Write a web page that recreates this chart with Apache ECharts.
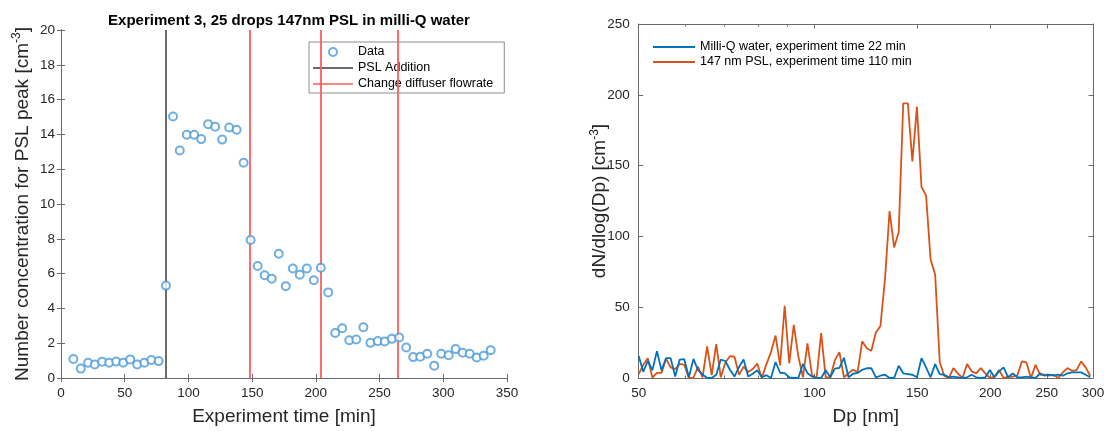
<!DOCTYPE html>
<html>
<head>
<meta charset="utf-8">
<script src="https://cdn.jsdelivr.net/npm/echarts@6/dist/echarts.min.js"></script>
<style>
html,body{margin:0;padding:0;background:#fff;}
#chart{width:1108px;height:431px;}
</style>
</head>
<body>
<div id="chart"></div>
<script>
// ---- Left panel data ----
const times = [9.7, 15.5, 21.3, 26.5, 32.3, 37.8, 43.3, 48.8, 54.3, 59.8, 65.4, 70.9, 76.6, 82.4, 87.9, 93.2, 98.7, 104.5, 110, 115.5, 121, 126.5, 132, 137.8, 143.3, 148.8, 154.3, 159.8, 165.4, 170.9, 176.4, 181.9, 187.4, 192.9, 198.4, 203.9, 209.7, 215.2, 220.7, 226.2, 231.7, 237.3, 242.8, 248.6, 254.1, 259.6, 265.4, 270.9, 276.4, 281.9, 287.4, 292.9, 298.4, 304.2, 309.7, 315.2, 320.7, 326.2, 331.7, 337.2];
const concentration = [1.09, 0.54, 0.88, 0.78, 0.94, 0.88, 0.95, 0.88, 1.07, 0.78, 0.88, 1.03, 0.97, 5.31, 15.03, 13.07, 13.98, 13.98, 13.73, 14.59, 14.44, 13.70, 14.40, 14.27, 12.37, 7.93, 6.44, 5.91, 5.71, 7.14, 5.28, 6.29, 5.93, 6.29, 5.62, 6.34, 4.92, 2.59, 2.86, 2.17, 2.21, 2.92, 2.02, 2.12, 2.10, 2.25, 2.33, 1.75, 1.20, 1.22, 1.39, 0.71, 1.39, 1.31, 1.66, 1.45, 1.39, 1.18, 1.28, 1.60];
const pslAddition = [82];
const flowChanges = [148.5, 203.5, 264.5];

// ---- Right panel data ----
const dp = [50.00, 50.91, 51.83, 52.77, 53.73, 54.70, 55.70, 56.71, 57.74, 58.78,
  59.85, 60.94, 62.05, 63.17, 64.32, 65.49, 66.68, 67.89, 69.12, 70.37,
  71.65, 72.95, 74.28, 75.62, 77.00, 78.40, 79.82, 81.27, 82.75, 84.25,
  85.78, 87.33, 88.92, 90.53, 92.17, 93.85, 95.55, 97.28, 99.05, 100.85,
  102.68, 104.54, 106.44, 108.37, 110.34, 112.34, 114.38, 116.46, 118.57, 120.72,
  122.92, 125.15, 127.42, 129.73, 132.09, 134.48, 136.92, 139.41, 141.94, 144.52,
  147.14, 149.81, 152.53, 155.30, 158.11, 160.98, 163.91, 166.88, 169.91, 172.99,
  176.13, 179.33, 182.58, 185.90, 189.28, 192.71, 196.21, 199.77, 203.40, 207.09,
  210.85, 214.68, 218.58, 222.54, 226.58, 230.70, 234.88, 239.15, 243.49, 247.91,
  252.41, 256.99, 261.65, 266.40, 271.24, 276.16, 281.17, 286.28, 291.47, 296.76];
const milliQ = [15.6, 4.5, 12, 5.5, 19, 5.5, 14, 14, 1, 13,
  13.3, 0.5, 13.5, 5.5, 2.5, 0, 0, 2.3, 13, 12,
  5.8, 1, 7.8, 13, 1, 3, 5.5, 0.5, 2, 0,
  11.3, 3.7, 3.4, 0.5, 0, 0, 10, 3.4, 1, 0,
  0, 5.5, 0.5, 6.6, 7.2, 14.3, 0.5, 3, 3.6, 5.8,
  6.9, 7, 0.5, 1.6, 2.3, 0, 0, 8.6, 3.3, 2.8,
  2.3, 0.5, 14, 7.5, 0.5, 9.8, 2.8, 2.3, 0.5, 0.9,
  0.5, 0, 0.5, 2.3, 0.5, 0, 0.5, 5.6, 0.5, 4.7,
  7.5, 0.5, 3.3, 0.5, 0.5, 0.9, 0.5, 0, 3.3, 1.6,
  2.3, 1.6, 2.3, 1.6, 3.3, 4, 4, 4, 2.3, 0.5];
const psl = [2.8, 9.3, 14, 0.3, 3.6, 3.6, 13.6, 7.5, 6.3, 9.9,
  9.2, 0, 0, 8, 0.5, 22.4, 2, 24, 0.5, 11,
  15.4, 15, 2.2, 8, 4.3, 6.3, 10.1, 0, 9.8, 18.3,
  30, 8.9, 51, 10.4, 37.6, 15.3, 0.5, 24.4, 2, 0,
  31.8, 0.5, 0.5, 12.4, 18.3, 0.5, 3.3, 5.8, 4.2, 25.9,
  21, 19.2, 32.1, 36.8, 70, 117.9, 92.2, 102.9, 194, 194,
  152.9, 191.6, 134.9, 129, 83.6, 73.1, 11.1, 1.4, 0, 7,
  3.1, 0, 9.9, 4.7, 3.3, 7, 3.3, 0, 0.9, 5.6,
  0, 0.9, 0.9, 1.6, 11.7, 11, 0, 9.3, 2.3, 2.3,
  1.6, 2.3, 0, 4, 7, 5.1, 5.6, 11.7, 7.5, 1.6];
const dpTickLabels = [50, 100, 150, 200, 250, 300];
const dpMinorTicks = [60, 70, 80, 90];

const FONT = '"Liberation Sans", Arial, Helvetica, sans-serif';
const TXT = '#262626';
const BOX = '#6a6a6a';
const BLUE = '#0072BD';
const ORANGE = '#D95319';
const DOT = '#4a9ad8';
const RED = '#ff5c5c';
const BLACK = '#3a3a3a';

const axisLineS = {show: true, lineStyle: {color: BOX, width: 1}};
const tickIn = (len, custom) => {
  const t = {show: true, inside: true, length: len, lineStyle: {color: BOX, width: 1}};
  if (custom) t.customValues = custom;
  return t;
};
const lbl = (m) => ({show: true, fontSize: 13.5, color: TXT, fontFamily: FONT, margin: m});
const nameStyle = {fontSize: 19, color: TXT, fontFamily: FONT};
const richName = {
  t: {fontSize: 19, color: TXT, fontFamily: FONT},
  s: {fontSize: 12, color: TXT, fontFamily: FONT, padding: [0, 0, 11, 0]}
};

const logTicks = dpTickLabels.map(v => Math.log10(v));
const logMinor = dpMinorTicks.map(v => Math.log10(v));
const logMin = Math.log10(dpTickLabels[0]);
const logMax = Math.log10(dpTickLabels[dpTickLabels.length - 1]);

const leftX = {type: 'value', min: 0, max: 350, interval: 50};
const leftY = {type: 'value', min: 0, max: 20, interval: 2};
const rightXv = {type: 'value', min: logMin, max: logMax};
const rightY = {type: 'value', min: 0, max: 250, interval: 50};
const off = {axisLabel: {show: false}, splitLine: {show: false}};

const LINE_ICON = 'path://M0,0H40V1.6H0Z';
const LINE_ICON2 = 'path://M0,0H42V1.9H0Z';

const chart = echarts.init(document.getElementById('chart'), null, {renderer: 'canvas'});
const option = {
  animation: false,
  backgroundColor: '#fff',
  textStyle: {fontFamily: FONT},
  title: {
    text: 'Experiment 3, 25 drops 147nm PSL in milli-Q water',
    left: 284, top: 8, textAlign: 'center',
    textStyle: {fontSize: 15, fontWeight: 'bold', color: '#000', fontFamily: FONT}
  },
  grid: [
    {left: 61, top: 30, width: 446, height: 351, containLabel: false},
    {left: 638.7, top: 24, width: 454.3, height: 357, containLabel: false}
  ],
  legend: [
    {
      orient: 'vertical', left: 309, top: 42,
      padding: [3, 11, 2, 4], itemGap: 2,
      itemWidth: 40, itemHeight: 8,
      borderColor: '#8c8c8c', borderWidth: 1, backgroundColor: '#fff',
      textStyle: {fontSize: 12.5, color: '#000', fontFamily: FONT, lineHeight: 14},
      data: [
        {name: 'Data', icon: 'emptyCircle'},
        {name: 'PSL Addition', icon: LINE_ICON},
        {name: 'Change diffuser flowrate', icon: LINE_ICON}
      ],
      selectedMode: false
    },
    {
      orient: 'vertical', left: 653, top: 40,
      padding: 0, itemGap: 1,
      itemWidth: 42, itemHeight: 8,
      textStyle: {fontSize: 12.5, color: '#000', fontFamily: FONT, lineHeight: 14},
      data: [
        {name: 'Milli-Q water, experiment time 22 min', icon: LINE_ICON2},
        {name: '147 nm PSL, experiment time 110 min', icon: LINE_ICON2}
      ],
      selectedMode: false
    }
  ],
  xAxis: [
    Object.assign({ // 0 left bottom
      gridIndex: 0, position: 'bottom',
      axisLine: axisLineS, axisTick: tickIn(4), axisLabel: lbl(8), splitLine: {show: false},
      name: 'Experiment time [min]', nameLocation: 'middle', nameGap: 29, nameTextStyle: nameStyle,
      nameMoveOverlap: false
    }, leftX),
    Object.assign({ // 1 left top
      gridIndex: 0, position: 'top', axisLine: axisLineS, axisTick: tickIn(4)
    }, off, leftX),
    { // 2 right data log axis
      gridIndex: 1, type: 'log', logBase: 10, min: dpTickLabels[0], max: dpTickLabels[dpTickLabels.length - 1],
      position: 'bottom', axisLine: {show: false}, axisTick: {show: false}, axisLabel: {show: false},
      splitLine: {show: false}, minorTick: {show: false}, minorSplitLine: {show: false}
    },
    Object.assign({ // 3 right bottom labels (log10 space)
      gridIndex: 1, position: 'bottom',
      axisLine: axisLineS, axisTick: tickIn(4.5, logTicks),
      axisLabel: Object.assign(lbl(8), {customValues: logTicks, formatter: v => String(Math.round(Math.pow(10, v)))}),
      splitLine: {show: false},
      name: 'Dp [nm]', nameLocation: 'middle', nameGap: 29, nameTextStyle: nameStyle,
      nameMoveOverlap: false
    }, rightXv),
    Object.assign({ // 4 right bottom minor ticks
      gridIndex: 1, position: 'bottom', axisLine: {show: false}, axisTick: tickIn(2.5, logMinor)
    }, off, rightXv),
    Object.assign({ // 5 right top
      gridIndex: 1, position: 'top', axisLine: axisLineS, axisTick: tickIn(4.5, logTicks)
    }, off, rightXv),
    Object.assign({ // 6 right top minor ticks
      gridIndex: 1, position: 'top', axisLine: {show: false}, axisTick: tickIn(2.5, logMinor)
    }, off, rightXv)
  ],
  yAxis: [
    Object.assign({ // 0 left
      gridIndex: 0, position: 'left',
      axisLine: axisLineS, axisTick: tickIn(4), axisLabel: lbl(6), splitLine: {show: false},
      name: '{t|Number concentration for PSL peak [cm}{s|-3}{t|]}', nameLocation: 'middle', nameGap: 27,
      nameTextStyle: {rich: richName}, nameMoveOverlap: false
    }, leftY),
    Object.assign({ // 1 left panel right side
      gridIndex: 0, position: 'right', axisLine: axisLineS, axisTick: tickIn(4)
    }, off, leftY),
    Object.assign({ // 2 right panel left
      gridIndex: 1, position: 'left',
      axisLine: axisLineS, axisTick: tickIn(4.5), axisLabel: lbl(9), splitLine: {show: false},
      name: '{t|dN/dlog(Dp) [cm}{s|-3}{t|]}', nameLocation: 'middle', nameGap: 27,
      nameTextStyle: {rich: richName}, nameMoveOverlap: false
    }, rightY),
    Object.assign({ // 3 right panel right side
      gridIndex: 1, position: 'right', axisLine: axisLineS, axisTick: tickIn(4.5)
    }, off, rightY)
  ],
  series: [
    {
      name: 'PSL Addition', type: 'line', xAxisIndex: 0, yAxisIndex: 0,
      data: [], symbol: 'none', color: BLACK, lineStyle: {color: BLACK, width: 1.5},
      markLine: {
        silent: true, symbol: ['none', 'none'], label: {show: false},
        lineStyle: {color: BLACK, width: 1.5, type: 'solid'},
        emphasis: {disabled: true},
        data: pslAddition.map(v => ({xAxis: v}))
      }
    },
    {
      name: 'Change diffuser flowrate', type: 'line', xAxisIndex: 0, yAxisIndex: 0,
      data: [], symbol: 'none', color: RED, lineStyle: {color: RED, width: 1.8},
      markLine: {
        silent: true, symbol: ['none', 'none'], label: {show: false},
        lineStyle: {color: RED, width: 1.8, type: 'solid'},
        emphasis: {disabled: true},
        data: flowChanges.map(v => ({xAxis: v}))
      }
    },
    {
      name: 'Data', type: 'scatter', xAxisIndex: 0, yAxisIndex: 0,
      symbol: 'emptyCircle', symbolSize: 8, color: DOT,
      itemStyle: {color: DOT, borderColor: DOT, borderWidth: 1.1},
      data: times.map((t, i) => [t, concentration[i]]),
      z: 5
    },
    {
      name: 'Milli-Q water, experiment time 22 min', type: 'line', xAxisIndex: 2, yAxisIndex: 2,
      symbol: 'none', color: BLUE, lineStyle: {color: BLUE, width: 1.8},
      data: dp.map((d, i) => [d, milliQ[i]]), z: 3
    },
    {
      name: '147 nm PSL, experiment time 110 min', type: 'line', xAxisIndex: 2, yAxisIndex: 2,
      symbol: 'none', color: ORANGE, lineStyle: {color: ORANGE, width: 1.8},
      data: dp.map((d, i) => [d, psl[i]]), z: 2
    }
  ]
};
chart.setOption(option);
</script>
</body>
</html>
